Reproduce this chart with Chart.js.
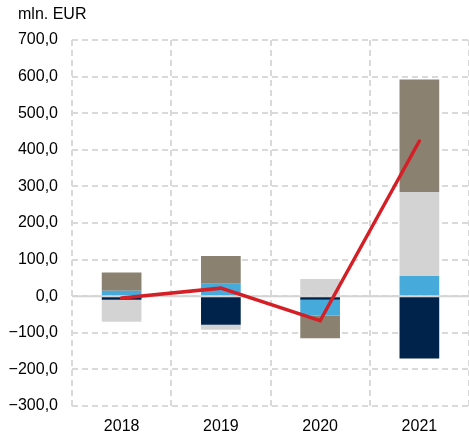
<!DOCTYPE html>
<html>
<head>
<meta charset="utf-8">
<script src="https://cdn.jsdelivr.net/npm/chart.js@4.4.1/dist/chart.umd.min.js"></script>
<style>
  html, body { margin: 0; padding: 0; background: #fff; }
  .wrap { position: relative; width: 469px; height: 438px; }
  canvas { display: block; }
  .unit {
    position: absolute; left: 18px; top: 5px;
    font: 16px "Liberation Sans", Arial, sans-serif; color: #000;
  }
</style>
</head>
<body>
<div class="wrap">
  <div class="unit">mln. EUR</div>
  <canvas id="chart" width="469" height="438"></canvas>
</div>
<script>
const years = ["2018", "2019", "2020", "2021"];

const navySeries = [-10, -78, -10, -170];
const blueSeries = [15, 34, -43, 55];
const greySeries = [-60, -14, 47, 230];
const brownSeries = [50, 76, -62, 307];
const totalLine = [-5, 22, -67, 424];

const yTicks = [-300, -200, -100, 0, 100, 200, 300, 400, 500, 600, 700];

const fontFamily = "'Liberation Sans', Arial, sans-serif";

function fmt(v) {
  const s = Math.abs(v).toFixed(1).replace(".", ",");
  return v < 0 ? "\u2212" + s : s;
}

// solid line at zero over the dashed grid
const zeroLine = {
  id: "zeroLine",
  beforeDatasetsDraw(chart) {
    const { ctx, chartArea, scales } = chart;
    const y = scales.y.getPixelForValue(0);
    ctx.save();
    ctx.strokeStyle = "#d4d4d4";
    ctx.lineWidth = 2;
    ctx.beginPath();
    ctx.moveTo(chartArea.left, y);
    ctx.lineTo(chartArea.right, y);
    ctx.stroke();
    ctx.restore();
  },
};

const barStyle = {
  type: "bar",
  order: 1,
  barPercentage: 0.4,
  categoryPercentage: 1,
  borderWidth: 0,
  stack: "s",
};

new Chart(document.getElementById("chart"), {
  data: {
    labels: years,
    datasets: [
      { ...barStyle, label: "a", data: navySeries, backgroundColor: "#00234b" },
      { ...barStyle, label: "b", data: blueSeries, backgroundColor: "#46aadb" },
      { ...barStyle, label: "c", data: greySeries, backgroundColor: "#d3d3d3" },
      { ...barStyle, label: "d", data: brownSeries, backgroundColor: "#8b8170" },
      {
        type: "line",
        order: 0,
        label: "total",
        data: totalLine,
        borderColor: "#d51f26",
        borderWidth: 3.5,
        borderCapStyle: "round",
        borderJoinStyle: "miter",
        pointRadius: 0,
        tension: 0,
      },
    ],
  },
  options: {
    responsive: false,
    animation: false,
    layout: { padding: { top: 40, right: 0, bottom: 0, left: 0 } },
    plugins: {
      legend: { display: false },
      tooltip: { enabled: false },
    },
    scales: {
      x: {
        afterFit(scale) {
          scale.height = 32;
        },
        grid: {
          offset: true,
          // no line on the right edge
          color: (c) => (c.index === years.length ? "rgba(0,0,0,0)" : "#d9d9d9"),
          lineWidth: 2,
          drawTicks: false,
        },
        border: { display: false, dash: [6, 4] },
        ticks: {
          padding: 11,
          color: "#000",
          font: { family: fontFamily, size: 16 },
        },
      },
      y: {
        stacked: true,
        min: -300,
        max: 700,
        afterBuildTicks(scale) {
          scale.ticks = yTicks.map((v) => ({ value: v }));
        },
        afterFit(scale) {
          scale.width = 72;
        },
        grid: {
          color: "#d9d9d9",
          lineWidth: 2,
          drawTicks: false,
        },
        border: { display: false, dash: [6, 4] },
        ticks: {
          padding: 14,
          color: "#000",
          font: { family: fontFamily, size: 16 },
          callback: (v) => fmt(v),
        },
      },
    },
  },
  plugins: [zeroLine],
});
</script>
</body>
</html>
